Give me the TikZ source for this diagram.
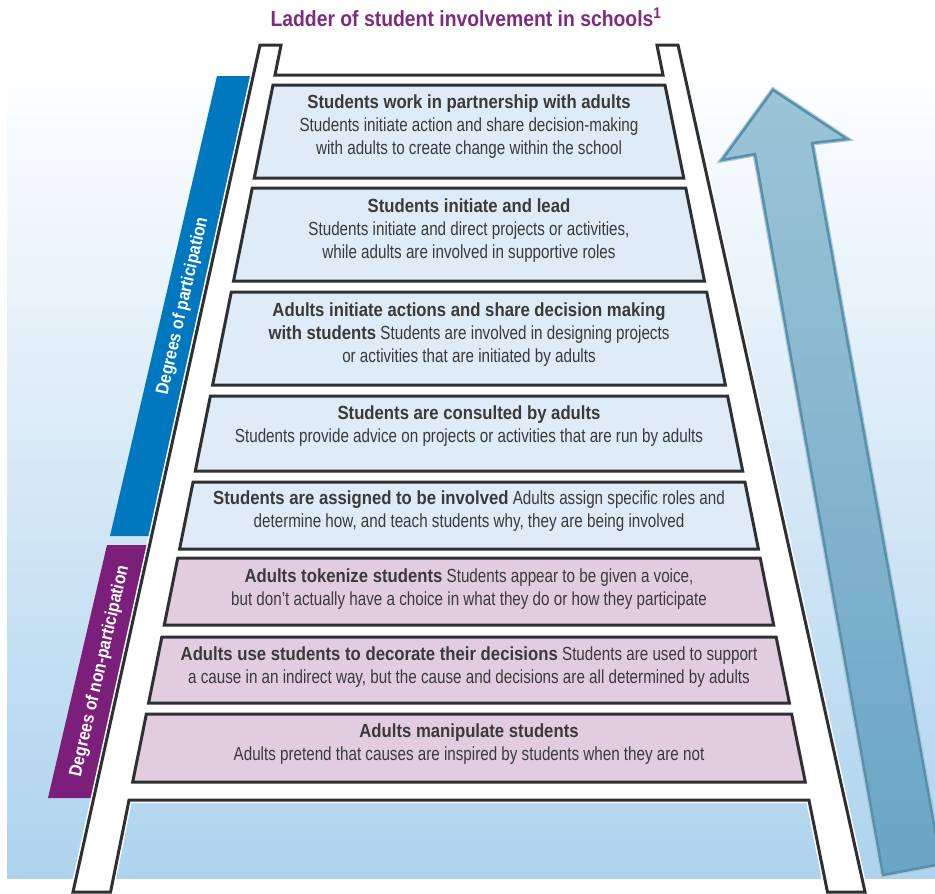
\documentclass[tikz,border=0pt]{standalone}
\usepackage{graphicx}
\usepackage{fontspec}
\setmainfont{Liberation Sans}[FakeStretch=0.80]
\newfontfamily\headfont{Liberation Sans}[FakeStretch=0.88]
\newfontfamily\barfont{Liberation Sans}
\usetikzlibrary{positioning}
\tikzset{>=latex}
\definecolor{bgblue}{HTML}{AED3EE}
\definecolor{partfill}{HTML}{DFEBF6}
\definecolor{nonfill}{HTML}{E2CDE0}
\definecolor{ladderline}{HTML}{2F3034}
\definecolor{textgray}{HTML}{3A3A3A}
\definecolor{barblue}{HTML}{0078C0}
\definecolor{barpurple}{HTML}{7C1F7A}
\definecolor{titlepurple}{HTML}{7F2A80}
\definecolor{arrowtop}{HTML}{9CC4D6}
\definecolor{arrowbottom}{HTML}{6AA5C6}
\definecolor{arrowline}{HTML}{5A90AA}
\definecolor{arrowhalo}{HTML}{A9CADA}
\newcommand{\hd}[1]{{\headfont\bfseries #1}}
\newcommand{\bartxt}[1]{\scalebox{0.88}[1]{#1}}

\begin{document}
\begin{tikzpicture}[x=1pt,y=-1pt,
	declare function={hw(\v)=178.9+0.2013*\v; ow(\v)=199.06+0.2208*\v;},
	rungtext/.style={align=center, text=textgray, inner sep=0pt, font=\fontsize{19}{23}\selectfont},
	rungbox/.style={draw=ladderline, line width=3pt},
	bartext/.style={text=white, inner sep=0pt, rotate=77.2, font=\barfont\bfseries\fontsize{18}{20}\selectfont},
	titletext/.style={text=titlepurple, inner sep=0pt, font=\headfont\bfseries\fontsize{22}{26}\selectfont}]
		\useasboundingbox (0,0) rectangle (935,894);
		\clip (0,0) rectangle (935,894);
		\shade[top color=white, bottom color=bgblue] (7,60) rectangle (935,878);

		\fill[barblue] (217,76) -- (257,76) -- (155,536) -- (110,536) -- cycle;
		\fill[barpurple] (107,545) -- (153,545) -- (97,798) -- (48,798) -- cycle;

		\coordinate (tip) at (773,90);
		\coordinate (hr) at (847,139);
		\coordinate (sr) at (812,143);
		\coordinate (br) at (941,864);
		\coordinate (bl) at (883,875);
		\coordinate (sl) at (755,154);
		\coordinate (hl) at (722,160);
		\shade[top color=arrowtop, bottom color=arrowbottom, draw=arrowline, line width=2.5pt,
			preaction={draw=arrowhalo, line width=5pt}]
			(tip) -- (hr) -- (sr) -- (br) -- (bl) -- (sl) -- (hl) -- cycle;

		\draw[ladderline, line width=3pt, fill=white, preaction={draw=white, line width=6pt}]
			({469-ow(892)},892) -- ({469-ow(45)},45) -- ({469-hw(45)},45) -- ({469-hw(75)},75)
			-- ({469+hw(75)},75) -- ({469+hw(45)},45) -- ({469+ow(45)},45) -- ({469+ow(892)},892)
			-- ({469+hw(892)},892) -- ({469+hw(800)},800) -- ({469-hw(800)},800) -- ({469-hw(892)},892) -- cycle;

		\foreach \t/\b/\c in {85/178/partfill, 188/281/partfill, 292/385/partfill, 396/471/partfill,
			482/549/partfill, 558/625/nonfill, 637/703/nonfill, 714/782/nonfill}
			\draw[rungbox, fill=\c] ({469-hw(\t)},\t) -- ({469+hw(\t)},\t) -- ({469+hw(\b)},\b) -- ({469-hw(\b)},\b) -- cycle;

		\node[titletext, anchor=base] (title) at (466,26) {Ladder of student involvement in schools\textsuperscript{1}};

		\node[rungtext] (r1) at (469,127) {\hd{Students work in partnership with adults}\\Students initiate action and share decision-making\\with adults to create change within the school};
		\node[rungtext] (r2) at (469,231) {\hd{Students initiate and lead}\\Students initiate and direct projects or activities,\\while adults are involved in supportive roles};
		\node[rungtext] (r3) at (469,334.5) {\hd{Adults initiate actions and share decision making}\\\hd{with students} Students are involved in designing projects\\or activities that are initiated by adults};
		\node[rungtext] (r4) at (469,426) {\hd{Students are consulted by adults}\\Students provide advice on projects or activities that are run by adults};
		\node[rungtext] (r5) at (469,511.5) {\hd{Students are assigned to be involved} Adults assign specific roles and\\determine how, and teach students why, they are being involved};
		\node[rungtext] (r6) at (469,589.5) {\hd{Adults tokenize students} Students appear to be given a voice,\\but don’t actually have a choice in what they do or how they participate};
		\node[rungtext] (r7) at (469,667) {\hd{Adults use students to decorate their decisions} Students are used to support\\a cause in an indirect way, but the cause and decisions are all determined by adults};
		\node[rungtext] (r8) at (469,744.5) {\hd{Adults manipulate students}\\Adults pretend that causes are inspired by students when they are not};

		\node[bartext] (part) at (183,306) {\bartxt{Degrees of participation}};
		\node[bartext] (nonpart) at (100,671) {\bartxt{Degrees of non-participation}};
	\end{tikzpicture}
\end{document}
